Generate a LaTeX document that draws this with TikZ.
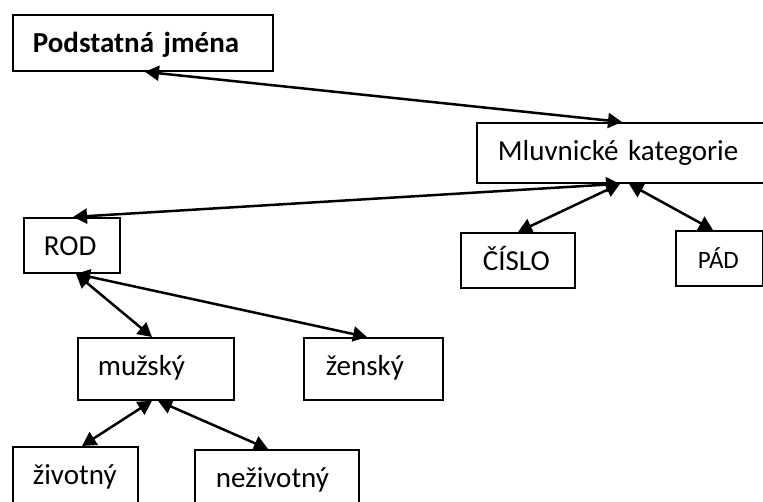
\documentclass[tikz,border=0pt]{standalone}
\usepackage{fontspec}
\setmainfont{Carlito}
\usetikzlibrary{arrows.meta}
\tikzset{
  box/.style={draw, line width=1.8pt, rectangle, anchor=north west, align=left,
    inner ysep=8pt, text height=30pt, font=\fontsize{29}{34}\selectfont},
  link/.style={line width=2.5pt, {Triangle[length=14pt,width=15pt]}-{Triangle[length=14pt,width=15pt]}}
}
\begin{document}
\begin{tikzpicture}[x=1pt,y=-1pt]
\useasboundingbox (0,0) rectangle (763,502);
\clip (0,0) rectangle (763,502);
% boxes: text width = W - 2*xsep, depth = H - 46
\node[box, inner xsep=20pt, text width=220pt, text depth=10pt, font=\fontsize{29}{34}\selectfont\bfseries] (pod) at (12,14) {Podstatná jména};
\node[box, inner xsep=21pt, text width=282pt, text depth=14pt] (mluv) at (476,122) {Mluvnické kategorie};
\node[box, inner xsep=20pt, text width=56pt, text depth=9pt] (rod) at (23,217) {ROD};
\node[box, inner xsep=22pt, text width=70pt, text depth=9pt] (cislo) at (460,232) {ČÍSLO};
\node[box, inner xsep=22pt, text width=43pt, text depth=9pt, font=\fontsize{25}{30}\selectfont] (pad) at (675,230) {PÁD};
\node[box, inner xsep=20pt, text width=116pt, text depth=16pt] (muz) at (77,337) {mužský};
\node[box, inner xsep=22pt, text width=95pt, text depth=16pt] (zen) at (303,337) {ženský};
\node[box, inner xsep=20pt, text width=85pt, text depth=40pt] (ziv) at (12,446) {životný};
\node[box, inner xsep=21pt, text width=122pt, text depth=40pt] (neziv) at (194,449) {neživotný};
% connectors
\draw[link] ([xshift=133pt]pod.south west) -- ([xshift=146pt]mluv.north west);
\draw[link] ([xshift=144pt]mluv.south west) -- ([xshift=50pt]rod.north west);
\draw[link] ([xshift=144pt]mluv.south west) -- ([xshift=58pt]cislo.north west);
\draw[link] ([xshift=153pt]mluv.south west) -- ([xshift=38pt]pad.north west);
\draw[link] ([xshift=53pt]rod.south west) -- ([xshift=75pt]muz.north west);
\draw[link] ([xshift=53pt]rod.south west) -- ([xshift=64pt]zen.north west);
\draw[link] ([xshift=75pt]muz.south west) -- ([xshift=70pt]ziv.north west);
\draw[link] ([xshift=81pt]muz.south west) -- ([xshift=74pt]neziv.north west);
\end{tikzpicture}
\end{document}
